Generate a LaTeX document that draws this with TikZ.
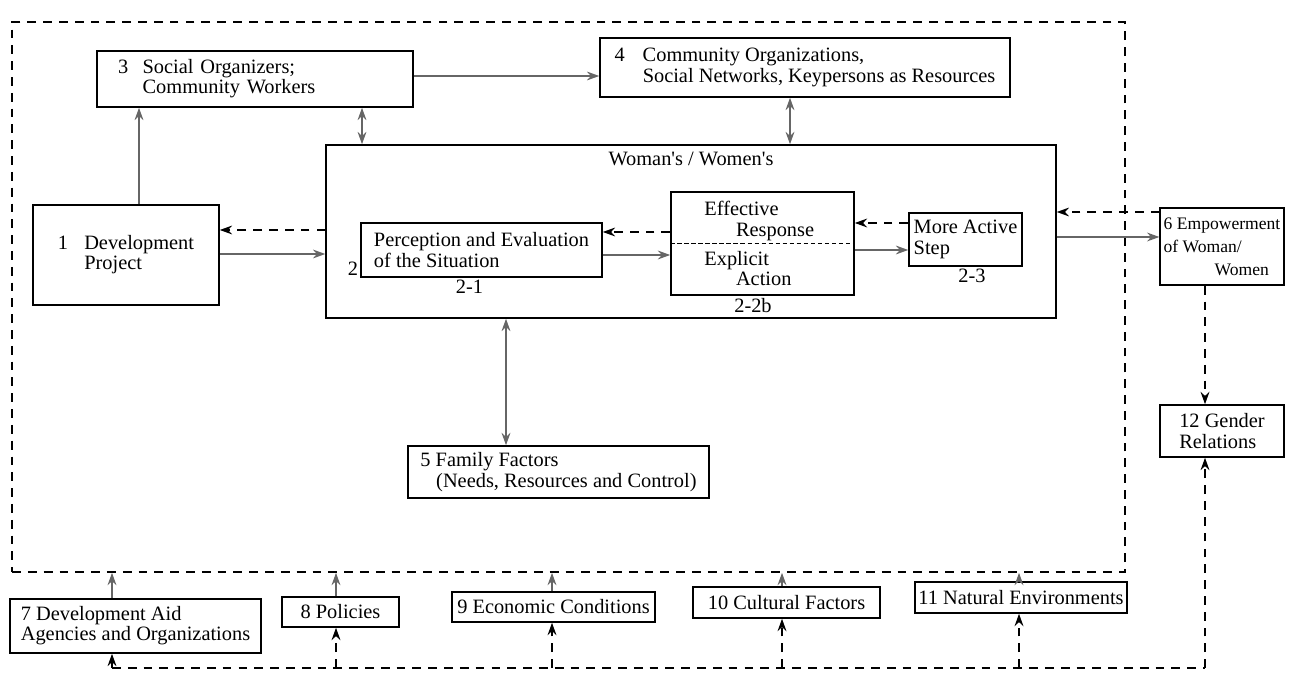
\documentclass[tikz,border=0pt]{standalone}
\usepackage{fontspec}
\setmainfont{Liberation Serif}
\usepackage{tikz}
\usetikzlibrary{arrows.meta, positioning, calc}

\begin{document}
\begin{tikzpicture}[
    x=0.02cm, y=-0.02cm,
    box/.style={rectangle, draw, line width=0.9pt, align=left,
                inner xsep=2pt, inner ysep=1pt,
                font=\fontsize{11.6}{11.5}\selectfont},
    lbl/.style={inner sep=1pt, font=\fontsize{11.6}{11.5}\selectfont},
    arr/.style={-{Stealth[length=7pt, width=5pt]}, line width=1pt, black!60},
    darr/.style={{Stealth[length=7pt, width=5pt]}-{Stealth[length=7pt, width=5pt]},
                 line width=1pt, black!60},
    dsharr/.style={-{Stealth[length=7pt, width=5pt]}, line width=1pt,
                   dash pattern=on 5pt off 4pt},
    dsh/.style={line width=1pt, dash pattern=on 5pt off 4pt},
  ]
    \useasboundingbox (0,0) rectangle (1295,678);

    % Outer frame
    \node[draw, dsh, minimum width=22.26cm, minimum height=11cm, inner sep=0pt]
      (frame) at (568.5,297) {};

    % Top row
    \node[box, text width=5.48cm, inner xsep=12pt, minimum height=1.12cm] (org)
      at (255,79) {\makebox[14pt][l]{3}Social Organizers;\\\hspace*{14pt}Community Workers};
    \node[box, minimum width=8.2cm, minimum height=1.18cm] (res) at (805,67.5)
      {\makebox[16pt][l]{4}Community Organizations,\\
       \hspace*{16pt}Social Networks, Keypersons as Resources};

    % Woman's / Women's
    \node[box, minimum width=14.6cm, minimum height=3.46cm] (women) at (691,231.5) {};
    \node[lbl, below=0.12cm of women.north] (wtitle)
      {Woman\textquotesingle s / Women\textquotesingle s};

    % Development project
    \node[box, minimum width=3.72cm, minimum height=2cm] (proj) at (126,255)
      {\makebox[15pt][l]{1}Development\\\hspace*{15pt}Project};

    % Steps 2-1, 2-2b, 2-3
    \node[box, minimum width=4.82cm, minimum height=1.08cm] (perc) at (481.5,250)
      {Perception and Evaluation\\of the Situation};
    \node[box, text width=3.38cm, inner xsep=4pt, minimum height=2.06cm] (resp)
      at (762.5,243.5)
      {\hspace*{15pt}Effective\\\hspace*{33pt}Response\\[5pt]
       \hspace*{15pt}Explicit\\\hspace*{33pt}Action};
    \node[box, minimum width=2.26cm, minimum height=1.06cm] (active) at (965.5,239.5)
      {More Active\\Step};
    \node[lbl, anchor=south east] (two) at (perc.south west) {2};
    \node[lbl, below=0pt of perc, xshift=-0.24cm] (l21) {2-1};
    \node[lbl, below=0pt of resp, xshift=-0.19cm] (l22) {2-2b};
    \node[lbl, below=0pt of active, xshift=0.13cm] (l23) {2-3};

    % Empowerment and gender relations
    \node[box, minimum width=2.44cm, minimum height=1.54cm,
          font=\fontsize{10}{13}\selectfont] (empw) at (1222,246.5)
      {6 Empowerment\\of Woman/\\\hspace*{29pt}Women};
    \node[box, minimum width=2.48cm, minimum height=1.04cm] (gender) at (1222,431)
      {12 Gender\\Relations};

    % Family factors
    \node[box, minimum width=6.02cm, minimum height=1.04cm] (family) at (558.5,472)
      {5 Family Factors\\\hspace*{9pt}(Needs, Resources and Control)};

    % Outer conditions
    \node[box, minimum width=5.02cm, minimum height=1.08cm] (aid) at (135.5,626)
      {7 Development Aid\\Agencies and Organizations};
    \node[box, minimum width=2.34cm, minimum height=0.6cm] (policy) at (340.5,612)
      {8 Policies};
    \node[box, minimum width=4.06cm, minimum height=0.6cm] (econ) at (553.5,607)
      {9 Economic Conditions};
    \node[box, minimum width=3.74cm, minimum height=0.62cm] (culture) at (786.5,602.5)
      {10 Cultural Factors};
    \node[box, minimum width=4.24cm, minimum height=0.62cm] (nature) at (1021,597.5)
      {11 Natural Environments};

    % Bus under the conditions
    \coordinate (bus7) at (112,668);
    \coordinate (bus8) at (336,668);
    \coordinate (bus9) at (552,668);
    \coordinate (bus10) at (782,668);
    \coordinate (bus11) at (1019,668);
    \coordinate (bus12) at (1205,668);

    % Arrows
    \draw[arr] (proj.north -| 139,0) -- (org.south -| 139,0);
    \draw[arr] (org.east |- 0,76) -- (res.west |- 0,76);
    \draw[darr] (org.south -| 362,0) -- (women.north -| 362,0);
    \draw[darr] (res.south -| 790,0) -- (women.north -| 790,0);
    \draw[dsharr] (women.west |- 0,230) -- (proj.east |- 0,230);
    \draw[arr] (proj.east |- 0,254) -- (women.west |- 0,254);

    \draw[dsharr] (resp.west |- 0,232) -- (perc.east |- 0,232);
    \draw[arr] (perc.east |- 0,255) -- (resp.west |- 0,255);
    \draw[dsharr] (active.west |- 0,223) -- (resp.east |- 0,223);
    \draw[arr] (resp.east |- 0,250) -- (active.west |- 0,250);
    \draw[line width=0.8pt, dash pattern=on 2.5pt off 1.5pt] (resp.west) -- (resp.east);

    \draw[dsharr] (empw.west |- 0,212) -- (women.east |- 0,212);
    \draw[arr] (women.east |- 0,237) -- (empw.west |- 0,237);
    \draw[dsharr] (empw.south -| bus12) -- (gender.north -| bus12);
    \draw[darr] (women.south -| 506,0) -- (family.north -| 506,0);

    % Conditions into the frame
    \draw[arr] (aid.north -| bus7) -- (frame.south -| bus7);
    \draw[arr] (policy.north -| bus8) -- (frame.south -| bus8);
    \draw[arr] (econ.north -| bus9) -- (frame.south -| bus9);
    \draw[arr] (culture.north -| bus10) -- (frame.south -| bus10);
    \draw[arr] (nature.north -| bus11) -- (frame.south -| bus11);

    % Dashed feedback along the bottom
    \draw[dsh] (bus7) -- (bus12);
    \draw[dsharr] (bus7) -- (aid.south -| bus7);
    \draw[dsharr] (bus8) -- (policy.south -| bus8);
    \draw[dsharr] (bus9) -- (econ.south -| bus9);
    \draw[dsharr] (bus10) -- (culture.south -| bus10);
    \draw[dsharr] (bus11) -- (nature.south -| bus11);
    \draw[dsharr] (bus12) -- (gender.south -| bus12);
  \end{tikzpicture}
\end{document}
